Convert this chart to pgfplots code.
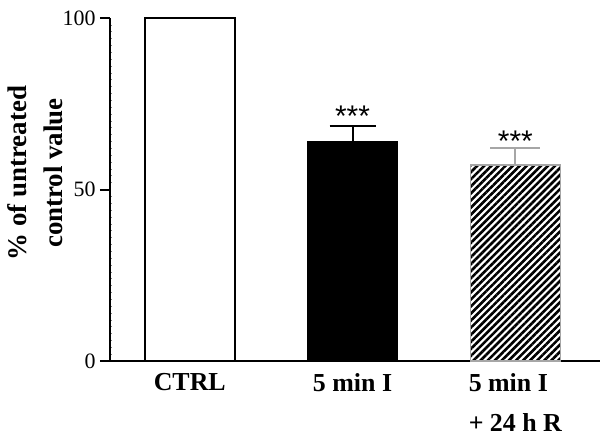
\documentclass[border=0pt]{standalone}
\usepackage{fontspec}
\setmainfont{Liberation Serif}
\newfontfamily\sansf{Liberation Sans}
\usepackage{pgfplots}
\pgfplotsset{compat=1.18}
\usetikzlibrary{patterns.meta}
\begin{document}
\begin{tikzpicture}
\begin{axis}[name=ax, scale only axis, width=490bp, height=343bp,
 xmin=-0.49, xmax=2.52, ymin=0, ymax=100,
 axis x line=bottom, axis y line=left,
 axis line style={-, line width=2bp},
 /pgf/number format/assume math mode=true,
 xtick={0,1,2}, xticklabels={CTRL, 5 min I, {5 min I\\+ 24 h R}},
 xticklabel style={font=\bfseries\fontsize{26}{40}\selectfont, align=left, anchor=north, yshift=1bp},
 x tick style={draw=none},
 ytick={0,50,100}, yticklabels={0,50,100},
 yticklabel style={font=\fontsize{22}{24}\selectfont, xshift=-1bp},
 tick align=outside, major tick length=10bp,
 y tick style={line width=2bp, black},
 minor y tick num=24, minor tick length=2bp,
 minor y tick style={line width=0.6bp, gray, xshift=2bp},
 ylabel={\% of untreated\\control value},
 ylabel style={font=\bfseries\fontsize{27}{36}\selectfont, align=center, at={(axis description cs:-0.153,0.548)}, anchor=center, rotate=0},
]
\addplot[ybar, bar width=90bp, bar shift=0pt, draw=black, line width=1.5bp, fill=white] coordinates {(0,100)};
\addplot[ybar, bar width=90bp, bar shift=0pt, draw=black, line width=1.5bp, fill=black,
  error bars/.cd, y dir=plus, y explicit, error mark=-,
  error bar style={line width=2bp, black},
  error mark options={rotate=90, mark size=23bp, line width=2bp, black}]
  coordinates {(1,63.8) +- (0,4.7)};
\addplot[ybar, bar width=90bp, bar shift=0pt, draw=gray!70, line width=1.5bp,
  pattern={Lines[angle=45,distance=5bp,line width=2.6bp]}, pattern color=black,
  error bars/.cd, y dir=plus, y explicit, error mark=-,
  error bar style={line width=2bp, gray!70},
  error mark options={rotate=90, mark size=25bp, line width=2bp, gray!70}]
  coordinates {(2,57.1) +- (0,5.0)};
\node[font=\sansf\fontsize{30}{30}\selectfont, inner sep=0pt] at (axis cs:1,71.4) {***};
\node[font=\sansf\fontsize{30}{30}\selectfont, inner sep=0pt] at (axis cs:2,64.1) {***};
\end{axis}
\pgfresetboundingbox
\path[use as bounding box] ([xshift=-110bp,yshift=-77bp]ax.south west) rectangle ([xshift=8bp,yshift=18bp]ax.north east);
\end{tikzpicture}
\end{document}
